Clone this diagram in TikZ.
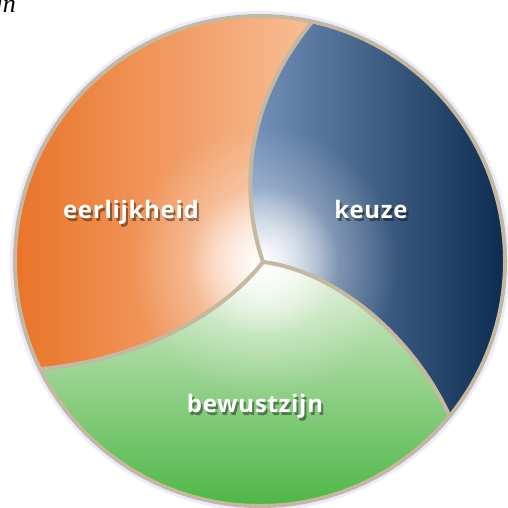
\documentclass[tikz,border=0pt]{standalone}
\usepackage{fontspec}
\setmainfont{Liberation Serif}
\newfontfamily\labelfont[LetterSpace=3]{Open Sans}
\usetikzlibrary{calc,fadings}
\definecolor{oranje}{RGB}{233,114,38}
\definecolor{perzik}{RGB}{248,190,150}
\definecolor{lichtblauw}{RGB}{120,150,190}
\definecolor{middenblauw}{RGB}{42,80,126}
\definecolor{donkerblauw}{RGB}{3,34,70}
\definecolor{lichtgroen}{RGB}{218,236,208}
\definecolor{groen}{RGB}{72,180,64}
\definecolor{rand}{RGB}{196,184,160}
\tikzfading[name=glowfade, inner color=transparent!0, outer color=transparent!100]
\tikzset{
  rib/.style={draw=rand,line width=4pt},
  lbl/.style={font=\labelfont\bfseries\fontsize{24}{28}\selectfont,text=white,anchor=base,inner sep=0pt},
  lblshadow/.style={lbl,text=black,opacity=0.4},
}
\begin{document}
\begin{tikzpicture}[x=1pt,y=-1pt]
\useasboundingbox (0,0) rectangle (507,508);
\coordinate (C) at (260,261);
\coordinate (J) at (263,262);
\coordinate (T) at ($(C)+(-77.7:245)$);
\coordinate (L) at ($(C)+(153.8:245)$);
\coordinate (R) at ($(C)+(39.3:245)$);

% segments
\shade[left color=oranje,right color=perzik] (J) .. controls (242,200) and (240,110) .. (T)
  arc[start angle=-77.7,end angle=-206.2,radius=245] .. controls (150,358) and (225,310) .. (J) -- cycle;
\shade[left color=lichtblauw,middle color=middenblauw,right color=donkerblauw] (J) .. controls (242,200) and (240,110) .. (T)
  arc[start angle=-77.7,end angle=39.3,radius=245] .. controls (410,330) and (330,270) .. (J) -- cycle;
\shade[top color=lichtgroen,bottom color=groen] (J) .. controls (330,270) and (410,330) .. (R)
  arc[start angle=39.3,end angle=153.8,radius=245] .. controls (150,358) and (225,310) .. (J) -- cycle;
\begin{scope}
\clip (C) circle[radius=245];
\fill[white,path fading=glowfade] (J) circle[radius=75];
\fill[white,opacity=0.6,path fading=glowfade] (J) circle[radius=135];
\end{scope}

% borders
\draw[rib] (J) .. controls (242,200) and (240,110) .. (T);
\draw[rib] (J) .. controls (225,310) and (150,358) .. (L);
\draw[rib] (J) .. controls (330,270) and (410,330) .. (R);
\draw[draw=blue!8!white,line width=3pt] (C) circle[radius=248.5];
\draw[rib] (C) circle[radius=245];

\node[lblshadow] (eerS) at (133,221) {eerlijkheid};
\node[lbl] (eer) at (131,218) {eerlijkheid};
\node[lblshadow] (keuS) at (373,221) {keuze};
\node[lbl] (keu) at (371,218) {keuze};
\node[lblshadow] (bewS) at (257,415) {bewustzijn};
\node[lbl] (bew) at (255,412) {bewustzijn};

\node[font=\itshape\fontsize{26}{28}\selectfont,anchor=base east,inner sep=0pt] (bijschrift) at (16,13) {jn};
\end{tikzpicture}
\end{document}
